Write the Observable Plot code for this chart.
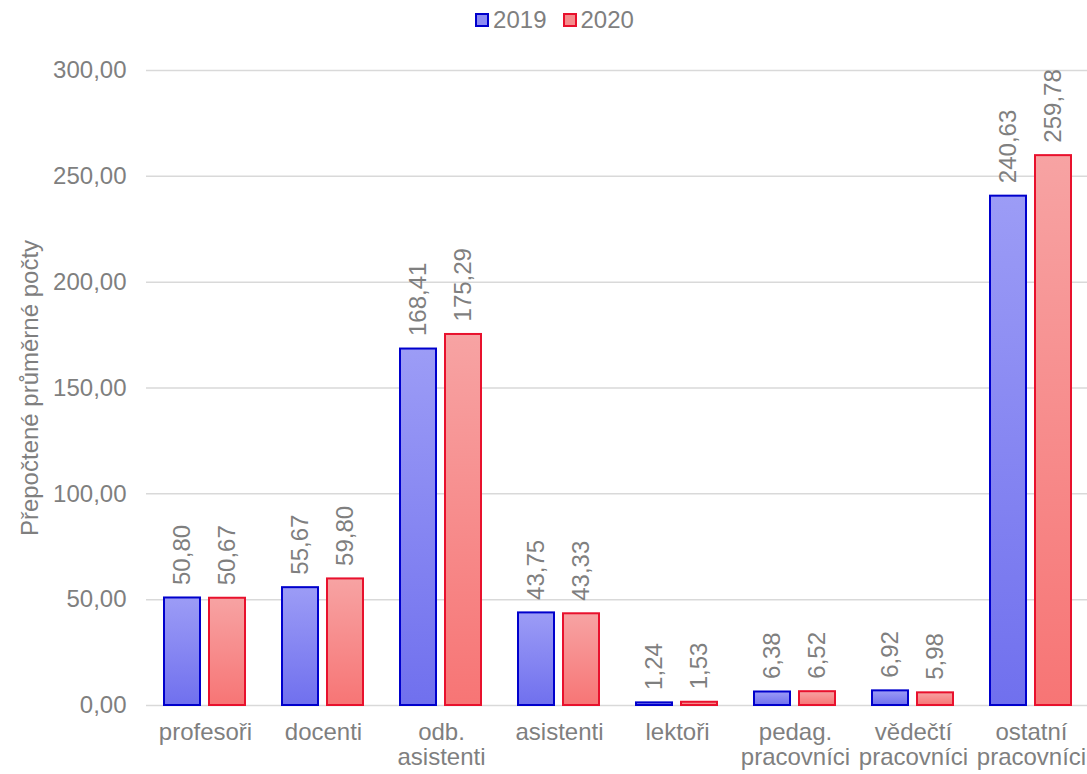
<!DOCTYPE html>
<html>
<head>
<meta charset="utf-8">
<script src="https://cdn.jsdelivr.net/npm/d3@7"></script>
<script src="https://cdn.jsdelivr.net/npm/@observablehq/plot@0.6"></script>
<style>
  body { margin: 0; background: #fff; font-family: "Liberation Sans", Arial, sans-serif; overflow: hidden; }
  #legend { height: 40px; display: flex; justify-content: center; align-items: center; color: #7f7f7f; font-size: 24px; padding-left: 22px; }
  .item { display: flex; align-items: center; margin: 0 8px; }
  .sw { width: 10px; height: 10px; border: 2px solid; margin-right: 4px; }
</style>
</head>
<body>
<div id="legend"></div>
<div id="chart"></div>
<script>
const categories = ["profesoři", "docenti", "odb.\nasistenti", "asistenti", "lektoři", "pedag.\npracovníci", "vědečtí\npracovníci", "ostatní\npracovníci"];
const years = [2019, 2020];
const values2019 = [50.80, 55.67, 168.41, 43.75, 1.24, 6.38, 6.92, 240.63];
const values2020 = [50.67, 59.80, 175.29, 43.33, 1.53, 6.52, 5.98, 259.78];
const yTicks = [0, 50, 100, 150, 200, 250, 300];
const yLabel = "Přepočtené průměrné počty";
const strokes = {2019: "#0000cc", 2020: "#e8112d"};
const swatchFill = {2019: "#8c8cf3", 2020: "#f58c8c"};

const data = [];
categories.forEach((c, i) => {
  data.push({cat: c, year: 2019, value: values2019[i]});
  data.push({cat: c, year: 2020, value: values2020[i]});
});

const fmt = v => v.toFixed(2).replace(".", ",");

// legend
const lg = document.getElementById("legend");
years.forEach(y => {
  const it = document.createElement("div");
  it.className = "item";
  it.innerHTML = `<span class="sw" style="border-color:${strokes[y]};background:${swatchFill[y]}"></span><span>${y}</span>`;
  lg.appendChild(it);
});

const chart = Plot.plot({
  width: 1087,
  height: 734,
  marginLeft: 146,
  marginRight: -3,
  marginTop: 30,
  marginBottom: 69,
  style: {fontFamily: "'Liberation Sans', Arial, sans-serif", fontSize: "24px", color: "#7f7f7f", background: "#fff", overflow: "hidden"},
  fx: {domain: categories, padding: 0, label: null},
  x: {domain: years, paddingInner: 0.197, paddingOuter: 0.388, axis: null},
  y: {domain: [0, 300]},
  color: {type: "ordinal", domain: years, range: ["url(#gb)", "url(#gr)"]},
  marks: [
    Plot.gridY(yTicks, {stroke: "#d9d9d9", strokeOpacity: 1, strokeWidth: 1.5}),
    Plot.axisY(yTicks, {tickSize: 0, tickPadding: 20, tickFormat: fmt, label: yLabel, labelAnchor: "center", labelArrow: "none", labelOffset: 126, fill: "#7f7f7f"}),
    Plot.axisFx({anchor: "bottom", tickSize: 0, tickPadding: 16, lineHeight: 1.07, label: null, fill: "#7f7f7f"}),
    Plot.barY(data, {fx: "cat", x: "year", y: "value", fill: "year", stroke: d => strokes[d.year], strokeWidth: 2}),
    Plot.text(data, {fx: "cat", x: "year", y: "value", text: d => fmt(d.value), rotate: -90, textAnchor: "start", dy: -13, fill: "#7f7f7f"})
  ]
});

const ns = "http://www.w3.org/2000/svg";
const defs = document.createElementNS(ns, "defs");
defs.innerHTML = `
<linearGradient id="gb" x1="0" y1="0" x2="0" y2="1">
  <stop offset="0" stop-color="#9c9cf6"/><stop offset="1" stop-color="#7070ee"/>
</linearGradient>
<linearGradient id="gr" x1="0" y1="0" x2="0" y2="1">
  <stop offset="0" stop-color="#f7a3a3"/><stop offset="1" stop-color="#f77575"/>
</linearGradient>`;
chart.prepend(defs);
document.getElementById("chart").appendChild(chart);
</script>
</body>
</html>
